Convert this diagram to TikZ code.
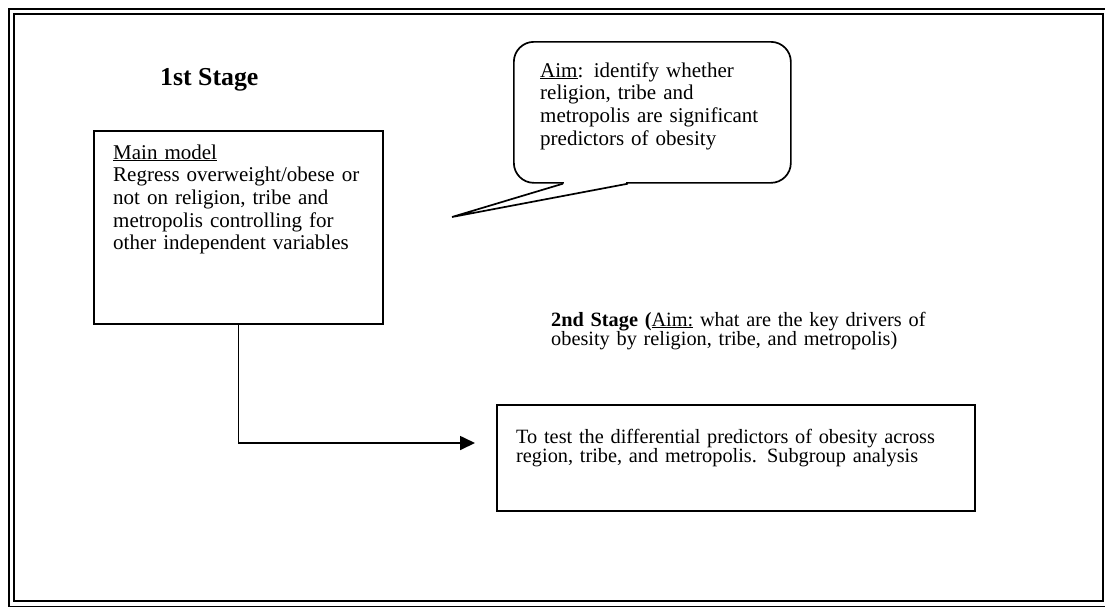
\documentclass[tikz,border=0pt]{standalone}
\usepackage{fontspec}
\setmainfont{Liberation Serif}
\usetikzlibrary{arrows.meta, positioning, calc}

\begin{document}
\begin{tikzpicture}[
    x=1pt, y=-1pt,
    frame/.style={draw, line width=2.4pt},
    stagebox/.style={rectangle, draw, line width=1.7pt, inner sep=0pt, anchor=north west},
    notebox/.style={stagebox, rounded corners=20pt},
    bodytext/.style={anchor=base west, inner sep=0pt, align=left, text width=#1, font=\fontsize{21}{22.7}\selectfont},
    tighttext/.style={bodytext=#1, font=\fontsize{20.3}{17.3}\selectfont},
    stagetitle/.style={anchor=base west, inner sep=0pt, font=\fontsize{25.8}{28}\selectfont\bfseries},
    arrow/.style={-{Triangle[length=15pt, width=14pt]}, line width=1.7pt}
]
\useasboundingbox (0,0) rectangle (1105,606);

% double frame
\draw[frame] (9,9) rectangle (1109,607);
\draw[frame] (14,14) rectangle (1103,601);

% 1st stage
\node[stagetitle] (stage1) at (160,85) {1st Stage};
\node[stagebox, minimum width=289pt, minimum height=193pt] (mainmodel) at (93,130) {};
\node[bodytext=300pt] (maintext) at (113,159) {\underline{Main model}\\Regress overweight/obese or\\not on religion, tribe and\\metropolis controlling for\\other independent variables};

% callout
\node[notebox, minimum width=277pt, minimum height=141pt] (aimnote) at (513,41) {};
\node[bodytext=270pt] (aimtext) at (540,77) {\underline{Aim}: identify whether\\religion, tribe and\\metropolis are significant\\predictors of obesity};
\coordinate (tailtip) at (452,217);
\draw[white, line width=2.6pt] ([xshift=-88pt]aimnote.south) -- ([xshift=-26pt]aimnote.south);
\draw[line width=1.7pt] ([xshift=-89.5pt]aimnote.south) -- (tailtip) -- ([xshift=-24.5pt]aimnote.south);

% 2nd stage
\node[tighttext=440pt] (stage2) at (551,326) {\textbf{2nd Stage (}\underline{Aim:} what are the key drivers of\\obesity by religion, tribe, and metropolis)};
\node[stagebox, minimum width=478pt, minimum height=106pt] (subgroup) at (496,404) {};
\node[tighttext=470pt] (subtext) at (516,443) {To test the differential predictors of obesity across\\region, tribe, and metropolis. Subgroup analysis};

\coordinate (arrowend) at (475,443);
\draw[arrow] (mainmodel.south) |- (arrowend);
\end{tikzpicture}
\end{document}
